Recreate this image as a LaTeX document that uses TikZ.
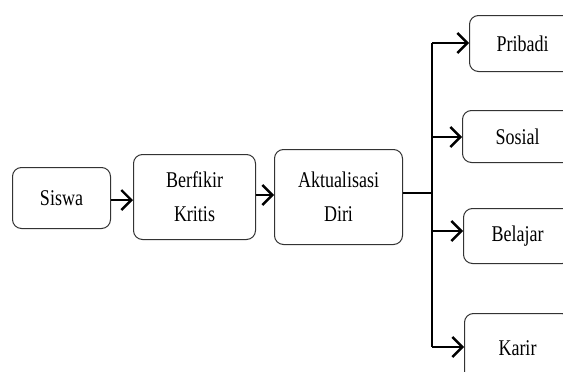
\documentclass[tikz,border=0pt]{standalone}
\usepackage{fontspec}
\setmainfont{Liberation Serif}
\usetikzlibrary{arrows.meta}
\newcommand\tx[1]{\scalebox{1}[1.25]{#1}}
\begin{document}
\begin{tikzpicture}[x=1pt,y=-1pt,
  box/.style={draw=black!80,line width=1pt,rounded corners=9pt,anchor=north west,inner sep=0pt,
    font=\fontsize{18}{34}\selectfont,align=center},
  arr/.style={line width=2.4pt,-{Straight Barb[length=10pt,width=20pt]}},
  conn/.style={line width=1.3pt}]
\useasboundingbox (0,0) rectangle (563,372);
\fill[white] (0,0) rectangle (563,372);
\node[box,minimum width=98pt,minimum height=61pt] (siswa) at (12,167) {\tx{Siswa}};
\node[box,minimum width=122pt,minimum height=85pt] (berf) at (133,154) {\tx{Berfikir}\\\tx{Kritis}};
\node[box,minimum width=128pt,minimum height=95pt] (akt) at (274,149) {\tx{Aktualisasi}\\\tx{Diri}};
\node[box,minimum width=106pt,minimum height=56pt] (prib) at (469,15) {\tx{Pribadi}};
\node[box,minimum width=110pt,minimum height=52pt] (sos) at (462,110) {\tx{Sosial}};
\node[box,minimum width=108pt,minimum height=55pt] (bel) at (463,208) {\tx{Belajar}};
\node[box,minimum width=106pt,minimum height=70pt] (kar) at (464,313) {\tx{Karir}};
\draw[arr] (siswa.east |- 0,200) -- (berf.west |- 0,200);
\draw[arr] (berf.east |- 0,195) -- (akt.west |- 0,195);
\coordinate (top) at (432,43);
\coordinate (bot) at (432,347);
\coordinate (mid) at (432,193);
\draw[conn] (akt.east |- mid) -- (mid);
\draw[conn] (top) -- (bot);
\draw[arr] (top) -- (prib.west |- top);
\draw[arr] (432,137) -- (sos.west |- 0,137);
\draw[arr] (432,231) -- (bel.west |- 0,231);
\draw[arr] (bot) -- (kar.west |- bot);
\end{tikzpicture}
\end{document}
